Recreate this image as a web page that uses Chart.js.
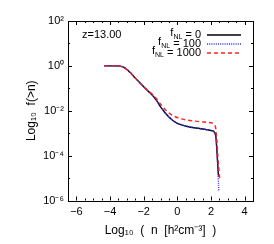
<!DOCTYPE html>
<html><head><meta charset="utf-8">
<script src="https://cdn.jsdelivr.net/npm/chart.js@4"></script>
<style>html,body{margin:0;padding:0;background:#fff}#wrap{width:274px;height:244px}</style>
</head><body><div id="wrap"><canvas id="c"></canvas></div>
<script>
const xTicks = [-6, -4, -2, 0, 2, 4];
const yTicks = [-6, -4, -2, 0, 2];
const seriesNames = ["0", "100", "1000"];
const xBlack = [-4.35,-3.8,-3.4,-3.2,-3.0,-2.8,-2.6,-2.3,-2.0,-1.7,-1.4,-1.2,-1.0,-0.8,-0.6,-0.4,-0.2,0,0.3,0.6,1.0,1.4,1.8,2.1,2.2,2.28,2.33,2.38,2.42,2.45];
const yBlack = [0,0,-0.01,-0.06,-0.16,-0.3,-0.46,-0.7,-0.93,-1.15,-1.38,-1.58,-1.82,-2.02,-2.2,-2.35,-2.47,-2.56,-2.64,-2.7,-2.76,-2.8,-2.85,-2.9,-2.95,-3.1,-3.5,-4.1,-4.6,-4.9];
const xBlue = [-4.35,-3.8,-3.4,-3.2,-3.0,-2.8,-2.6,-2.3,-2.0,-1.7,-1.4,-1.2,-1.0,-0.8,-0.6,-0.4,-0.2,0,0.3,0.6,1.0,1.4,1.8,2.1,2.2,2.28,2.33,2.38,2.42,2.45,2.46];
const yBlue = [0,0,-0.01,-0.06,-0.16,-0.3,-0.46,-0.7,-0.93,-1.15,-1.38,-1.58,-1.82,-2.02,-2.2,-2.35,-2.47,-2.56,-2.64,-2.7,-2.76,-2.8,-2.85,-2.9,-2.95,-3.1,-3.5,-4.1,-4.7,-5.3,-5.6];
const xRed = [-4.35,-3.8,-3.4,-3.2,-3.0,-2.8,-2.6,-2.3,-2.0,-1.7,-1.4,-1.2,-1.0,-0.8,-0.6,-0.4,-0.2,0,0.3,0.6,1.0,1.4,1.8,2.1,2.2,2.28,2.34,2.4,2.46,2.52];
const yRed = [0,0,-0.01,-0.06,-0.16,-0.3,-0.46,-0.7,-0.92,-1.12,-1.33,-1.5,-1.7,-1.88,-2.03,-2.15,-2.24,-2.3,-2.37,-2.42,-2.46,-2.49,-2.52,-2.55,-2.6,-2.75,-3.2,-3.9,-4.5,-5.0];

const pts = (xs, ys) => xs.map((x, i) => ({x, y: ys[i]}));
const SUP = {"-":"\u207B","0":"\u2070","1":"\u00B9","2":"\u00B2","3":"\u00B3","4":"\u2074","5":"\u2075","6":"\u2076","7":"\u2077","8":"\u2078","9":"\u2079"};
const sup = s => String(s).split("").map(c => SUP[c] || c).join("");
const FONT = "'Liberation Sans', Arial, sans-serif";

const colors = ["#000000", "#3030ff", "#ff2020"];
const dashes = [[], [1, 1.2], [4, 3]];

const decor = {
  id: 'decor',
  afterDatasetsDraw(chart) {
    const {ctx, chartArea: a, scales: {x, y}} = chart;
    ctx.save();
    ctx.strokeStyle = '#000';
    ctx.lineWidth = 1;
    ctx.strokeRect(Math.round(a.left) + 0.5, Math.round(a.top) + 0.5, Math.round(a.right - a.left), Math.round(a.bottom - a.top));
    ctx.beginPath();
    for (let v = -6.5; v <= 4.5 + 1e-9; v += 0.5) {
      const major = Math.abs(v % 2) < 1e-9;
      const L = major ? 4 : 2;
      const px = Math.round(x.getPixelForValue(v)) + 0.5;
      if (px <= a.left + 1 || px >= a.right - 1) continue;
      ctx.moveTo(px, a.bottom); ctx.lineTo(px, a.bottom - L);
      ctx.moveTo(px, a.top); ctx.lineTo(px, a.top + L);
    }
    for (let v = -6; v <= 2; v += 1) {
      const major = v % 2 === 0;
      const L = major ? 4 : 2;
      const py = Math.round(y.getPixelForValue(v)) + 0.5;
      if (py <= a.top + 1 || py >= a.bottom - 1) continue;
      ctx.moveTo(a.left, py); ctx.lineTo(a.left + L, py);
      ctx.moveTo(a.right, py); ctx.lineTo(a.right - L, py);
    }
    ctx.stroke();
    // annotation
    ctx.fillStyle = '#000';
    ctx.font = '11px ' + FONT;
    ctx.textBaseline = 'middle';
    ctx.textAlign = 'left';
    ctx.fillText('z=13.00', a.left + 14, a.top + 13.5);
    // legend
    const rowY = [a.top + 13.5, a.top + 22.5, a.top + 31.5];
    const textRight = a.right - 52;
    seriesNames.forEach((n, i) => {
      const yy = rowY[i];
      const rest = ' = ' + n;
      ctx.font = '11px ' + FONT;
      const wRest = ctx.measureText(rest).width;
      ctx.font = '7px ' + FONT;
      const wSub = ctx.measureText('NL').width;
      ctx.font = '11px ' + FONT;
      const wF = ctx.measureText('f').width;
      let sx = textRight - wRest - wSub - wF;
      ctx.textAlign = 'left';
      ctx.fillText('f', sx, yy - 1.5);
      ctx.font = '7px ' + FONT;
      ctx.fillText('NL', sx + wF, yy + 2.5);
      ctx.font = '11px ' + FONT;
      ctx.fillText(rest, sx + wF + wSub, yy);
      ctx.beginPath();
      ctx.strokeStyle = colors[i];
      ctx.lineWidth = 1.3;
      ctx.setLineDash(dashes[i]);
      ctx.moveTo(a.right - 46, yy + 0.5);
      ctx.lineTo(a.right - 12, yy + 0.5);
      ctx.stroke();
      ctx.setLineDash([]);
    });
    ctx.restore();
  }
};

new Chart(document.getElementById('c'), {
  type: 'line',
  data: {
    datasets: [
      {label: 'fNL = ' + seriesNames[0], data: pts(xBlack, yBlack), borderColor: colors[0], borderWidth: 1.4, pointRadius: 0, tension: 0.3, order: 3},
      {label: 'fNL = ' + seriesNames[1], data: pts(xBlue, yBlue), borderColor: colors[1], borderWidth: 1.4, borderDash: dashes[1], pointRadius: 0, tension: 0.3, order: 2},
      {label: 'fNL = ' + seriesNames[2], data: pts(xRed, yRed), borderColor: colors[2], borderWidth: 1.4, borderDash: dashes[2], pointRadius: 0, tension: 0.3, order: 1}
    ]
  },
  options: {
    responsive: true, maintainAspectRatio: false, animation: false,
    layout: {padding: {left: 0, top: 21, right: 21, bottom: 0}},
    plugins: {legend: {display: false}, tooltip: {enabled: false}},
    scales: {
      x: {
        type: 'linear', min: -6.5, max: 4.5,
        afterBuildTicks: s => { s.ticks = xTicks.map(v => ({value: v})); },
        afterFit: s => { s.height = 43.5; },
        grid: {display: false, drawTicks: false}, border: {display: false},
        ticks: {color: '#000', font: {family: FONT, size: 11}, padding: 5, maxRotation: 0, callback: v => (v < 0 ? '\u2212' + Math.abs(v) : String(v))},
        title: {display: true, text: 'Log\u2081\u2080  (  n  [h\u00B2cm\u207B\u00B3]  )', color: '#000', font: {family: FONT, size: 12}, padding: {top: 0, bottom: 6}}
      },
      y: {
        type: 'linear', min: -6, max: 2,
        afterBuildTicks: s => { s.ticks = yTicks.map(v => ({value: v})); },
        afterFit: s => { s.width = 68; },
        grid: {display: false, drawTicks: false}, border: {display: false},
        ticks: {color: '#000', font: {family: FONT, size: 11}, padding: 4, callback: v => '10' + sup(v)},
        title: {display: true, text: 'Log\u2081\u2080  f(>n)', color: '#000', font: {family: FONT, size: 12}, padding: {top: 24, bottom: 0}}
      }
    }
  },
  plugins: [decor]
});
</script></body></html>
